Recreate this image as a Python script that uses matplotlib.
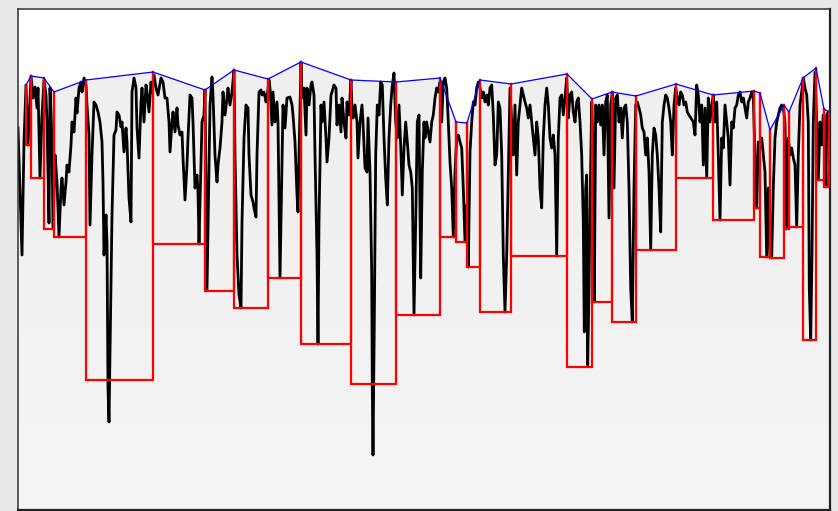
import numpy as np
import matplotlib.pyplot as plt
from matplotlib.patches import Polygon
from matplotlib.colors import LinearSegmentedColormap

# signal samples (position, level)
t = [0, 4, 6, 8, 10, 13, 15, 17, 19, 20, 22, 24, 26, 28, 29, 31, 32, 34, 35, 37,
     39, 41, 43, 44, 46, 48, 49, 51, 53, 54, 56, 58, 59, 61, 63, 64, 66, 68, 69, 71,
     72, 74, 76, 78, 80, 82, 84, 85, 86, 88, 89, 90, 91, 93, 94, 96, 98, 99, 101, 103,
     104, 106, 108, 109, 111, 113, 114, 116, 118, 119, 121, 123, 124, 126, 128, 129, 131, 133, 134, 136,
     138, 140, 143, 145, 147, 149, 151, 152, 154, 155, 157, 159, 160, 162, 164, 165, 167, 169, 170, 172,
     174, 175, 177, 179, 180, 181, 183, 184, 186, 187, 189, 192, 194, 195, 197, 199, 200, 202, 204, 205,
     207, 209, 210, 212, 214, 216, 217, 219, 221, 223, 224, 226, 228, 230, 231, 233, 235, 236, 238, 239,
     241, 243, 244, 246, 248, 249, 251, 252, 254, 255, 257, 259, 260, 262, 264, 265, 267, 269,
     272, 274, 275, 277, 279, 280, 281, 283, 284, 286, 288, 289, 291, 293, 294, 296, 297, 299, 300, 301,
     303, 304, 306, 308, 309, 311, 313, 314, 316, 318, 319, 321, 323, 324, 326, 328, 329, 331, 333, 334,
     335, 337, 339, 340, 342, 344, 345, 347, 349, 350, 352, 353.7, 354.3, 355, 356.3, 357.7, 359.3, 361, 362.7, 364.3,
     366, 367.7, 369.3, 371, 372.7, 374.3, 376, 377.7, 379.3, 381, 382.7, 384.3, 386, 387.7, 389.3, 391, 392.7, 394.3, 396, 397.7,
     399.3, 401, 402.7, 404.3, 406,
     407, 408.7, 410.3, 412, 413.7, 415.3, 417, 418.7, 420.3, 422, 423.7, 425.3, 427, 428.7, 430.3, 432, 433.7, 435.3, 437, 438.7,
     440.3, 442, 443.7, 445.3, 447, 448.7, 450.3, 452, 453.7, 455.3, 457, 458.7, 460.3, 462, 463.7, 465.3, 467, 468.7, 470.3, 472,
     473.7, 475.3, 477, 478.7, 480.3, 482, 483.7, 485.3, 487, 488.7, 490.3, 492, 493.7, 495.3, 497, 498.7, 500.3, 502, 503.7, 505.3,
     507, 508.7, 510.3, 512, 513.7, 515.3, 517, 518.7, 520.3, 522, 523.7, 525.3, 527, 528.7, 530.3, 532, 533.7, 535.3, 537, 538.7,
     540.3,
     542, 543.7, 545.3, 547, 548.7, 550.3, 552, 553.7, 555.3, 557, 558.7, 560.3, 562, 563.7, 565.3, 566.3, 567.7, 568.7, 569.7, 571,
     572.3, 573.7, 575.3, 576.3, 577.7, 579.3, 581, 582.7, 584.3, 586, 587.7, 589.3, 591, 592.7, 594.3, 596, 597.7, 599.3, 601, 602.7,
     604.3, 606, 607.7, 609.3, 611, 612.7, 614.3, 616, 617.7, 619.3, 621, 622.7, 624.3, 626, 627.7, 629.3, 631, 632.7, 634.3, 636,
     637.7, 639.3, 641, 642.7, 644.3, 646, 647.7, 649.3, 651, 652.7, 654.3, 656, 657.7, 659.3, 661, 662.7, 664.3, 666, 667.7, 669.3,
     671,
     675.3, 677, 678.7, 680.3, 682, 683.7, 685.3, 687, 688.7, 690.3, 692, 693.7, 695.3, 697, 698.7, 700.3, 702, 703.7, 705.3, 707,
     708.7, 710.3, 712, 713.7, 715.3, 717, 718.7, 720.3, 722, 723.7, 725.3, 727, 728.7, 730.3, 732, 733.7, 735.3, 737, 738.7, 740.3,
     742, 743.7, 745.3, 747, 748.7, 750.3, 752, 753.7, 755.3, 757, 758.7, 760.3, 762, 763.7, 765.3, 767, 768.7, 770.3, 772, 773.7,
     775.3, 777, 778.7, 780.3, 782, 783.7, 785.3, 787, 788.7, 790.3, 791.3, 792.7, 794, 795.3, 797, 798.7, 800.3, 802, 803.7, 805.3,
     807, 808, 808.7, 810.3]

level = [382, 255, 368, 425, 365, 434, 412, 423, 402, 422, 332, 395, 430, 415, 388, 287, 422, 372, 281, 355,
         328, 273, 322, 332, 305, 328, 345, 338, 365, 388, 378, 412, 397, 422, 428, 418, 432, 425, 405, 375,
         285, 355, 408, 405, 398, 388, 368, 328, 255, 295, 268, 122, 88, 222, 295, 375, 380, 398, 395, 383,
         388, 358, 382, 368, 312, 288, 418, 432, 422, 382, 352, 408, 422, 388, 425, 418, 398, 428, 418, 435,
         422, 415, 432, 428, 412, 412, 388, 358, 388, 398, 378, 402, 385, 375, 378, 352, 310, 345, 372, 415,
         412, 388, 322, 335, 318, 266, 345, 388, 395, 420, 220, 405, 433, 415, 355, 328, 345, 362, 388, 418,
         395, 412, 422, 405, 418, 440, 355, 255, 215, 202, 288, 372, 405, 402, 355, 315, 308, 302, 293, 355,
         418, 420, 415, 418, 408, 412, 430, 422, 385, 418, 388, 408, 388, 232, 348, 405, 382, 412,
         413, 405, 395, 368, 315, 298, 355, 448, 412, 422, 375, 422, 405, 425, 428, 415, 355, 255, 166, 288,
         405, 388, 408, 372, 348, 372, 415, 418, 425, 422, 385, 405, 378, 412, 388, 372, 408, 395, 430, 402,
         392, 405, 388, 352, 388, 405, 388, 342, 338, 392, 338, 238, 122, 55, 188, 355, 405, 395, 428, 425,
         372, 332, 305, 372, 405, 425, 437, 388, 372, 405, 365, 315, 362, 388, 368, 345, 338, 322, 195, 288,
         388, 395, 232, 338, 388,
         372, 388, 378, 368, 388, 395, 412, 422, 418, 428, 388, 428, 432, 422, 388, 348, 322, 273, 338, 372,
         375, 368, 362, 322, 268, 305, 243, 358, 388, 408, 405, 422, 428, 422, 412, 418, 408, 415, 405, 422,
         425, 395, 345, 355, 408, 402, 355, 255, 198, 255, 338, 422, 388, 355, 405, 335, 388, 405, 422, 415,
         408, 402, 392, 405, 388, 372, 355, 388, 372, 322, 302, 372, 405, 422, 405, 372, 362, 375, 355, 254,
         372,
         412, 415, 395, 412, 432, 392, 415, 418, 398, 388, 408, 412, 388, 355, 288, 178, 322, 335, 145, 222,
         322, 408, 355, 208, 405, 388, 405, 385, 405, 355, 408, 415, 292, 405, 418, 322, 412, 415, 388, 402,
         372, 402, 405, 388, 322, 222, 188, 322, 405, 408, 402, 395, 382, 378, 355, 372, 338, 260, 355, 382,
         375, 355, 322, 278, 388, 405, 415, 412, 402, 388, 355, 405, 422, 412, 405, 418, 415, 405, 408, 398,
         395,
         388, 375, 425, 415, 388, 405, 345, 402, 332, 412, 388, 405, 415, 388, 408, 355, 290, 372, 362, 405,
         388, 372, 325, 388, 382, 402, 405, 415, 418, 408, 412, 402, 392, 408, 412, 418, 412, 355, 302, 368,
         362, 372, 355, 338, 253, 322, 255, 252, 322, 372, 388, 395, 402, 405, 402, 388, 281, 372, 355, 362,
         352, 345, 283, 355, 405, 418, 432, 422, 415, 388, 222, 170, 255, 388, 438, 388, 330, 388, 365, 395,
         375, 323, 395, 398]

# swing highs and the lowest level between each pair of them
peak_t = [8, 13, 26, 36, 68, 135, 187, 216, 250, 283, 333, 378, 422, 438, 449, 462,
          493, 549, 574, 594, 618, 658, 695, 736, 742, 752, 766, 771, 785, 798, 806, 811]
peak_v = [425, 434, 432, 418, 430, 438, 420, 440, 431, 448, 430, 428, 432, 388, 387, 430,
          426, 436, 411, 418, 414, 426, 415, 419, 417, 380, 405, 398, 432, 442, 401, 398]
trough_v = [365, 332, 281, 273, 130, 266, 219, 202, 232, 166, 126, 195, 273, 268, 243,
            198, 254, 143, 208, 188, 260, 332, 290, 302, 253, 252, 281, 283, 170, 330, 323]

x_max = 812
y_max = 501

fig = plt.figure(figsize=(8.38, 5.11), dpi=100, facecolor='#e8e8e8')
ax = fig.add_axes([18 / 838, 1 / 511, 812 / 838, 501 / 511])
ax.set_facecolor('white')
ax.set_xlim(0, x_max)
ax.set_ylim(0, y_max)

# light grey band below the envelope, slightly lighter toward the bottom
env_x = [0] + peak_t + [x_max, x_max, 0]
env_y = [peak_v[0]] + peak_v + [peak_v[-1], 0, 0]
band = Polygon(np.column_stack([env_x, env_y]), closed=True,
               facecolor='none', edgecolor='none')
ax.add_patch(band)
cmap = LinearSegmentedColormap.from_list('band', ['#f4f4f4', '#efefef'])
grad = np.linspace(0, 1, 256).reshape(-1, 1)
img = ax.imshow(grad, extent=(0, x_max, 0, 450), origin='lower', cmap=cmap,
                aspect='auto', zorder=0.5)
img.set_clip_path(band)

ax.plot(t, level, color='black', lw=2.0, zorder=2)

for i in range(len(peak_t) - 1):
    xs = [peak_t[i], peak_t[i], peak_t[i + 1], peak_t[i + 1]]
    ys = [peak_v[i], trough_v[i], trough_v[i], peak_v[i + 1]]
    ax.plot(xs, ys, color='#ff0000', lw=1.6, zorder=3, solid_joinstyle='miter')

ax.plot(peak_t, peak_v, color='#0000ff', lw=0.9, zorder=4)

ax.set_xticks([])
ax.set_yticks([])
for side in ['left', 'top']:
    ax.spines[side].set_color('#333333')
    ax.spines[side].set_linewidth(1.1)
for side in ['right', 'bottom']:
    ax.spines[side].set_color('#222222')
    ax.spines[side].set_linewidth(1.6)

fig.savefig('out.png', dpi=100, facecolor=fig.get_facecolor())
